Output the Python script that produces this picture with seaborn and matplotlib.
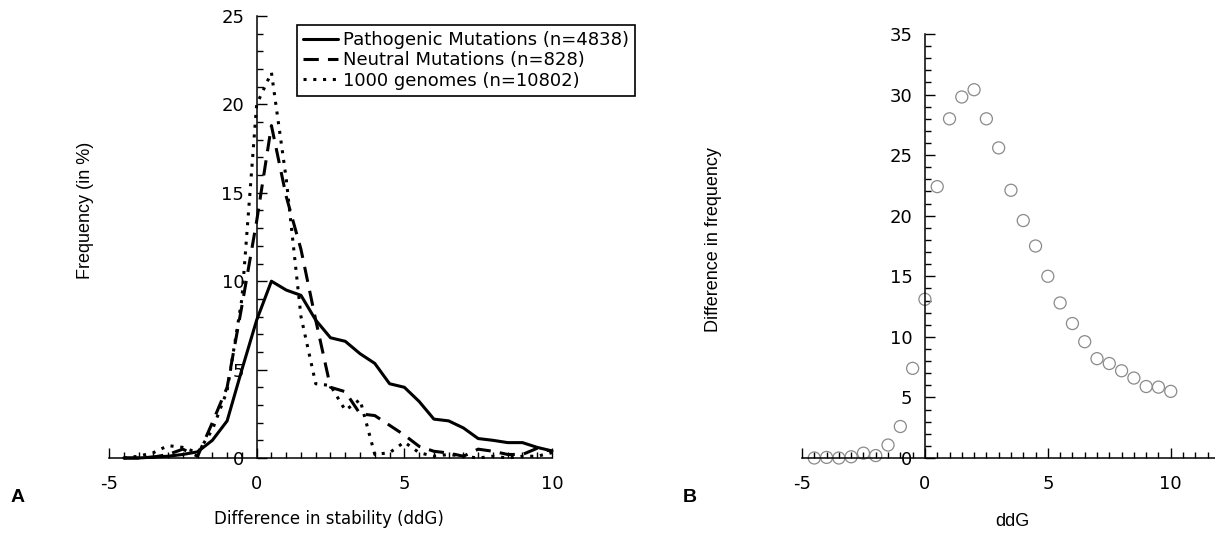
import pandas as pd
import seaborn as sns
import matplotlib.pyplot as plt
from matplotlib.ticker import MultipleLocator

# datos panel A: frecuencia (%) por ddG
ddg = [-4.5, -4.0, -3.5, -3.0, -2.5, -2.0, -1.5, -1.0, -0.5, 0.0, 0.5, 1.0, 1.5, 2.0, 2.5,
       3.0, 3.5, 4.0, 4.5, 5.0, 5.5, 6.0, 6.5, 7.0, 7.5, 8.0, 8.5, 9.0, 9.5, 10.0]
patogenicas = [0.0, 0.0, 0.05, 0.1, 0.2, 0.35, 1.0, 2.1, 5.0, 7.8, 10.0, 9.5, 9.2, 7.8, 6.8,
               6.6, 5.9, 5.35, 4.2, 4.0, 3.2, 2.2, 2.1, 1.7, 1.1, 1.0, 0.87, 0.87, 0.6, 0.4]
neutrales = [0.0, 0.0, 0.05, 0.2, 0.5, 0.1, 2.0, 4.0, 8.6, 13.4, 18.8, 14.8, 11.8, 7.8, 4.0,
             3.75, 2.5, 2.4, 1.85, 1.3, 0.66, 0.38, 0.28, 0.1, 0.5, 0.38, 0.2, 0.2, 0.55, 0.38]
genomas = [0.0, 0.1, 0.3, 0.7, 0.6, 0.3, 1.6, 3.8, 9.0, 20.0, 21.8, 15.8, 8.0, 4.2, 4.1,
           2.7, 3.3, 0.2, 0.3, 0.9, 0.3, 0.1, 0.2, 0.1, 0.0, 0.1, 0.0, 0.1, 0.1, 0.3]

# datos panel B: diferencia en frecuencia
ddg_b = [-4.5, -4.0, -3.5, -3.0, -2.5, -2.0, -1.5, -1.0, -0.5, 0.0, 0.5, 1.0, 1.5, 2.0, 2.5,
         3.0, 3.5, 4.0, 4.5, 5.0, 5.5, 6.0, 6.5, 7.0, 7.5, 8.0, 8.5, 9.0, 9.5, 10.0]
diferencia = [0.0, 0.05, 0.0, 0.1, 0.4, 0.2, 1.07, 2.6, 7.4, 13.1, 22.4, 28.0, 29.8, 30.4, 28.0,
              25.6, 22.1, 19.6, 17.5, 15.0, 12.8, 11.1, 9.6, 8.2, 7.8, 7.2, 6.6, 5.9, 5.85, 5.5]

sns.set_style("white", {"text.color": "black", "axes.labelcolor": "black",
                        "xtick.color": "black", "ytick.color": "black",
                        "xtick.bottom": True, "ytick.left": True})
plt.rcParams["font.family"] = ["DejaVu Sans"]

fig = plt.figure(figsize=(12.15, 5.35), dpi=100)
ax1 = fig.add_axes([109 / 1215, 77 / 535, 443 / 1215, 442 / 535])
ax2 = fig.add_axes([802 / 1215, 77 / 535, 413 / 1215, 424 / 535])

# panel A
sns.lineplot(x=ddg, y=patogenicas, ax=ax1, color="black", linewidth=2.2,
             label="Pathogenic Mutations (n=4838)", clip_on=False)
sns.lineplot(x=ddg, y=neutrales, ax=ax1, color="black", linewidth=2.2,
             linestyle=(0, (5, 3)), label="Neutral Mutations (n=828)", clip_on=False)
sns.lineplot(x=ddg, y=genomas, ax=ax1, color="black", linewidth=2.2,
             linestyle=(0, (1, 2.2)), label="1000 genomes (n=10802)", clip_on=False)
ax1.set_xlim(-5, 10)
ax1.set_ylim(0, 25)

# panel B
sns.scatterplot(x=ddg_b, y=diferencia, ax=ax2, marker="o", s=75, facecolor="none",
                edgecolor="#8a8a8a", linewidth=0.9, clip_on=False)
ax2.set_xlim(-5, 11.8)
ax2.set_ylim(0, 35)

for ax in (ax1, ax2):
    ax.spines["left"].set_position(("data", 0))
    ax.spines["bottom"].set_position(("data", 0))
    ax.spines["top"].set_visible(False)
    ax.spines["right"].set_visible(False)
    for s in ("left", "bottom"):
        ax.spines[s].set_color("black")
        ax.spines[s].set_linewidth(1.1)
    ax.set_facecolor("none")
    ax.xaxis.set_major_locator(MultipleLocator(5))
    ax.xaxis.set_minor_locator(MultipleLocator(0.5))
    ax.yaxis.set_major_locator(MultipleLocator(5))
    ax.yaxis.set_minor_locator(MultipleLocator(1))
    ax.tick_params(which="both", direction="in", color="black", width=1, labelsize=13,
                   bottom=True, left=True, labelcolor="black")
    ax.tick_params(which="major", length=7)
    ax.tick_params(which="minor", length=4)
    ax.tick_params(axis="x", pad=12)
    ax.tick_params(axis="y", pad=9)
    ax.set_xticks([-5, 0, 5, 10])
    ax.set_xticklabels(["-5", "0", "5", "10"])

leg = ax1.legend(loc="upper left", bbox_to_anchor=(297 / 1215, 1 - 25 / 535),
                 bbox_transform=fig.transFigure, borderaxespad=0, fontsize=13,
                 handlelength=1.9, handletextpad=0.3, borderpad=0.35, labelspacing=0.12,
                 fancybox=False, framealpha=1)
leg.get_frame().set_edgecolor("black")
leg.get_frame().set_linewidth(1.2)

fig.text(86 / 1215, 1 - 210 / 535, "Frequency (in %)", rotation=90, ha="center", va="center",
         fontsize=13, family="Liberation Sans")
fig.text(329 / 1215, 1 - 519 / 535, "Difference in stability (ddG)", ha="center", va="center",
         fontsize=12)
fig.text(713 / 1215, 1 - 240 / 535, "Difference in frequency", rotation=90, ha="center",
         va="center", fontsize=13, family="Liberation Sans")
fig.text(1012 / 1215, 1 - 521 / 535, "ddG", ha="center", va="center", fontsize=13,
         family="Liberation Sans")
fig.text(18 / 1215, 1 - 498 / 535, "A", ha="center", va="center", fontsize=14,
         fontweight="bold", family="Liberation Sans")
fig.text(690 / 1215, 1 - 498 / 535, "B", ha="center", va="center", fontsize=14,
         fontweight="bold", family="Liberation Sans")

fig.savefig("out.png", dpi=100)
